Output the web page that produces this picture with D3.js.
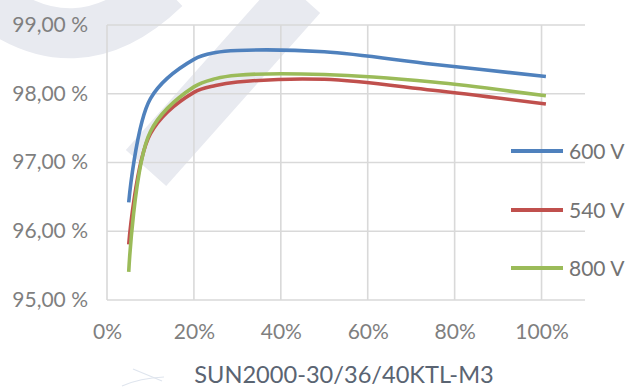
<!DOCTYPE html>
<html>
<head>
<meta charset="utf-8">
<script src="https://cdn.jsdelivr.net/npm/d3@7"></script>
<style>
  html, body { margin: 0; padding: 0; background: #ffffff; }
  svg { display: block; }
  text { font-family: Lato, "Open Sans", sans-serif; }
</style>
</head>
<body>
<svg id="chart" width="628" height="388"></svg>
<script>
// ---- data ----
const loads = [0.05, 0.10, 0.20, 0.25, 0.30, 0.50, 0.75, 1.01];
const seriesNames = ["600 V", "540 V", "800 V"];
const eff600 = [96.42, 97.93, 98.50, 98.60, 98.63, 98.61, 98.43, 98.25];
const eff540 = [95.81, 97.42, 98.02, 98.12, 98.17, 98.21, 98.05, 97.85];
const eff800 = [95.41, 97.45, 98.10, 98.22, 98.27, 98.28, 98.17, 97.97];
const seriesColors = ["#4F81BD", "#C0504D", "#9BBB59"];
const xTicks = [0, 0.2, 0.4, 0.6, 0.8, 1.0];
const yTicks = [95, 96, 97, 98, 99];
const chartTitle = "SUN2000-30/36/40KTL-M3";

const series = [eff600, eff540, eff800].map((vals, i) => ({
  name: seriesNames[i], color: seriesColors[i],
  points: vals.map((v, j) => ({ x: loads[j], y: v }))
}));

const svg = d3.select("#chart");
const plot = { left: 107, right: 585, top: 25, bottom: 300 };

const x = d3.scaleLinear().domain([0, 1.1]).range([plot.left, plot.right]);
const y = d3.scaleLinear().domain([95, 99]).range([plot.bottom, plot.top]);

// ---- watermark (background decoration) ----
const wm = svg.append("g").attr("fill", "none").attr("stroke", "#e8eaf0");
wm.append("path").attr("d", "M -20,-5 Q 75,75 165,-12").attr("stroke-width", 50);
wm.append("path").attr("d", "M 146,168 L 300,-5").attr("stroke-width", 54);
const sc = svg.append("g").attr("stroke", "#dfe5ee").attr("stroke-width", 1.2).attr("fill", "none");
sc.append("path").attr("d", "M 133,369 L 162,381");
sc.append("path").attr("d", "M 122,386 Q 140,378 164,377");

// ---- gridlines ----
const grid = svg.append("g");
grid.selectAll("line.h").data(yTicks).join("line")
  .attr("x1", plot.left).attr("x2", plot.right)
  .attr("y1", d => y(d)).attr("y2", d => y(d))
  .attr("stroke", "#d9d9d9").attr("stroke-width", 1.6);
grid.selectAll("line.v").data(xTicks).join("line")
  .attr("x1", d => x(d)).attr("x2", d => x(d))
  .attr("y1", plot.top).attr("y2", plot.bottom)
  .attr("stroke", "#d9d9d9").attr("stroke-width", 1.6);

// ---- axes ----
const fmtY = d => d3.format(".2f")(d).replace(".", ",") + " %";
const yAxis = d3.axisLeft(y).tickValues(yTicks).tickFormat(fmtY).tickSize(0).tickPadding(19);
const gy = svg.append("g").attr("transform", `translate(${plot.left},0)`).call(yAxis);
gy.select(".domain").remove();
gy.selectAll("text").attr("fill", "#7f7f7f").style("font-size", "21px").style("font-family", "Lato").attr("dy", "0.3em");

const xAxis = d3.axisBottom(x).tickValues(xTicks).tickFormat(d3.format(".0%")).tickSize(0).tickPadding(24);
const gx = svg.append("g").attr("transform", `translate(0,${plot.bottom})`).call(xAxis);
gx.select(".domain").remove();
gx.selectAll("text").attr("fill", "#7f7f7f").style("font-size", "21px").style("font-family", "Lato");

// ---- lines ----
const line = d3.line().x(d => x(d.x)).y(d => y(d.y)).curve(d3.curveCatmullRom.alpha(0.5));
svg.append("g").selectAll("path").data(series).join("path")
  .attr("d", d => line(d.points))
  .attr("fill", "none")
  .attr("stroke", d => d.color)
  .attr("stroke-width", 3.6)
  .attr("stroke-linejoin", "round");

// ---- legend ----
const legendY = [151, 210, 268];
const lg = svg.append("g").selectAll("g").data(series).join("g")
  .attr("transform", (d, i) => `translate(511,${legendY[i]})`);
lg.append("line").attr("x1", 0).attr("x2", 52).attr("y1", 0).attr("y2", 0)
  .attr("stroke", d => d.color).attr("stroke-width", 4.2);
lg.append("text").attr("x", 58).attr("y", 0).attr("dy", "0.36em")
  .attr("fill", "#737373").style("font-size", "21px").text(d => d.name);

// ---- title ----
svg.append("text").attr("x", 344).attr("y", 383).attr("text-anchor", "middle")
  .attr("fill", "#5a6472").style("font-size", "23.6px").text(chartTitle);
</script>
</body>
</html>
